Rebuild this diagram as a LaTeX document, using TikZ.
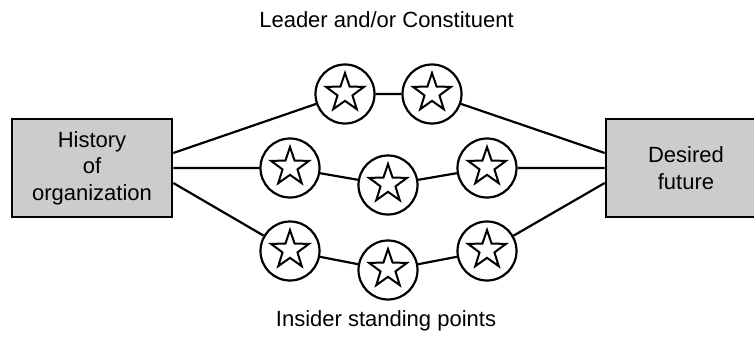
\documentclass[tikz,border=0pt]{standalone}
\usepackage{fontspec}
\setmainfont{Liberation Sans}
\usetikzlibrary{shapes.geometric}
\definecolor{boxgray}{HTML}{CCCCCC}
\tikzset{
  box/.style={draw=black, fill=boxgray, line width=2.6pt, minimum width=160pt, minimum height=98pt, inner sep=0pt, align=center, font=\fontsize{22}{26.5}\selectfont},
  circ/.style={draw=black, line width=2.2pt, circle, minimum size=59pt, inner sep=0pt},
  starsh/.style={draw=black, line width=2pt, star, star points=5, star point ratio=2.55, minimum size=40pt, inner sep=0pt},
  link/.style={draw=black, line width=2.2pt},
  lbl/.style={font=\fontsize{22}{26}\selectfont, anchor=base, inner sep=0pt}
}
\begin{document}
\begin{tikzpicture}[x=1pt, y=-1pt]
\useasboundingbox (0,0) rectangle (754,337);
\node[box] (L) at (92,168) {History\\of\\organization};
\node[box] (R) at (686,168) {Desired\\future};
\coordinate (L1) at ([yshift=15pt]L.east);
\coordinate (L2) at (L.east);
\coordinate (L3) at ([yshift=-15pt]L.east);
\coordinate (R1) at ([yshift=15pt]R.west);
\coordinate (R2) at (R.west);
\coordinate (R3) at ([yshift=-15pt]R.west);
\foreach \n/\x/\y in {t1/345/94, t2/432/94, m1/290/168, m2/388/185, m3/487/168, b1/290/251, b2/388/270, b3/487/251}{
  \node[circ] (\n) at (\x,\y) {};
  \node[starsh] at ([yshift=1pt]\n.center) {};
}
\draw[link] (L1) -- (t1) -- (t2) -- (R1);
\draw[link] (L2) -- (m1) -- (m2) -- (m3) -- (R2);
\draw[link] (L3) -- (b1) -- (b2) -- (b3) -- (R3);
\node[lbl] (top) at (386.5,27.7) {Leader and/or Constituent};
\node[lbl] (bot) at (386,326) {Insider standing points};
\end{tikzpicture}
\end{document}
